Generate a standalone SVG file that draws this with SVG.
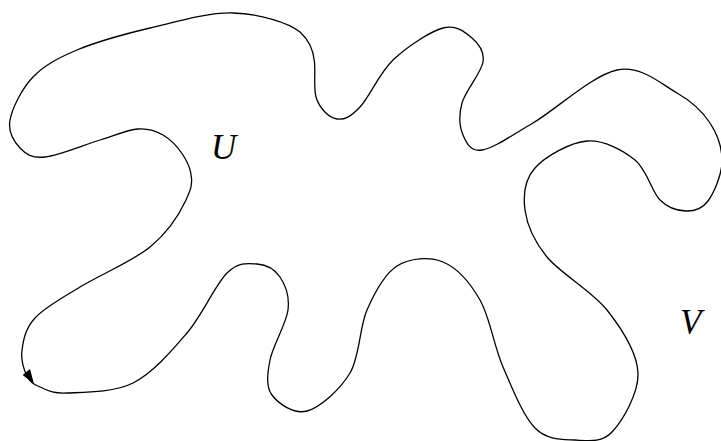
<svg xmlns="http://www.w3.org/2000/svg" width="721" height="441" viewBox="0 0 721 441">
<style>
.curve{fill:none;stroke:#000;stroke-width:1.3}
.lbl{font-family:"Liberation Serif","Times New Roman",serif;font-style:italic;font-size:35px;fill:#000}
</style>
<rect width="721" height="441" fill="#fff"/>
<g id="curve">
<path class="curve" d="M27,376 C24,369.8 20.7,359.7 22,350 C23.3,340.3 25.3,328.5 35,318 C44.7,307.5 60.8,298.8 80,287 C99.2,275.2 132.3,261.5 150,247 C167.7,232.5 180,213 186,200 C191,189 192,185.5 191.5,178 C191,170.5 187.7,162.2 183,155 C178.3,147.8 170.5,139.3 163,135 C155.5,130.7 148.5,128.2 138,129 C127.5,129.8 115.5,135.3 100,140 C84.5,144.7 58.3,155.7 45,157 C31.7,158.3 25.8,154.2 20,148 C14.2,141.8 7.8,131.8 10,120 C12.2,108.2 21.8,88.7 33,77 C44.2,65.3 57.5,58.2 77,50 C96.5,41.8 124,34.2 150,28 C176,21.8 208,12.3 233,13 C258,13.7 288,22 300,32 C310,41 313.5,50 314.5,62 C315.5,75 313.5,88 316,97 C318.8,107 328,117.5 337,119 C344.5,120.2 350.7,116.8 360,107 C369.3,97.2 379.2,73.2 393,60 C406.8,46.8 429.8,31.7 443,28 C456.2,24.3 465.3,32.3 472,38 C478.7,43.7 484.7,51.2 483,62 C481.3,72.8 465.3,90.8 462,103 C458.7,115.2 459.7,127.2 463,135 C466.3,142.8 470.3,152 482,150 C493.7,148 510.5,136.3 533,123 C555.5,109.7 593,75 617,70 C641,65 661.5,84.2 677,93 C692.5,101.8 702.5,111.5 710,123 C717.5,134.5 722.3,149 722,162 C721.7,175 714,192.8 708,201 C702,209.2 694,211.2 686,211 C678,210.8 668.5,208.5 660,200 C651.5,191.5 647.2,169.8 635,160 C622.8,150.2 603.7,139.7 587,141 C570.3,142.3 545.3,156.5 535,168 C524.7,179.5 523,195.2 525,210 C527,224.8 533.3,240.3 547,257 C560.7,273.7 591.8,290.7 607,310 C622.2,329.3 637.2,352.7 638,373 C638.8,393.3 622.5,420.8 612,432 C601.5,443.2 587.8,440.7 575,440 C562.2,439.3 547,440.2 535,428 C523,415.8 512.2,388.3 503,367 C493.8,345.7 490,317.5 480,300 C470,282.5 456.8,267.7 443,262 C429.2,256.3 409.7,258 397,266 C384.3,274 374.8,292.2 367,310 C359.2,327.8 360,356.2 350,373 C340,389.8 320,407.3 307,411 C294,414.7 278.2,403.5 272,395 C265.8,386.5 267.3,374.2 270,360 C272.7,345.8 286.3,323.8 288,310 C289.7,296.2 285.2,284.7 280,277 C274.8,269.3 265.8,264.7 257,264 C248.2,263.3 238.7,261.5 227,273 C215.3,284.5 202.7,314.7 187,333 C171.3,351.3 153,373 133,383 C113,393 82.5,392.3 67,393 C51.5,393.7 46.7,389.8 40,387 C33.3,384.2 30,382.2 27,376 Z"/>
<polygon points="34,384 22.7,375 30,369" fill="#000"/>
</g>
<g id="label-U"><text class="lbl" x="211" y="159">U</text></g>
<g id="label-V"><text class="lbl" x="680" y="334">V</text></g>
</svg>
